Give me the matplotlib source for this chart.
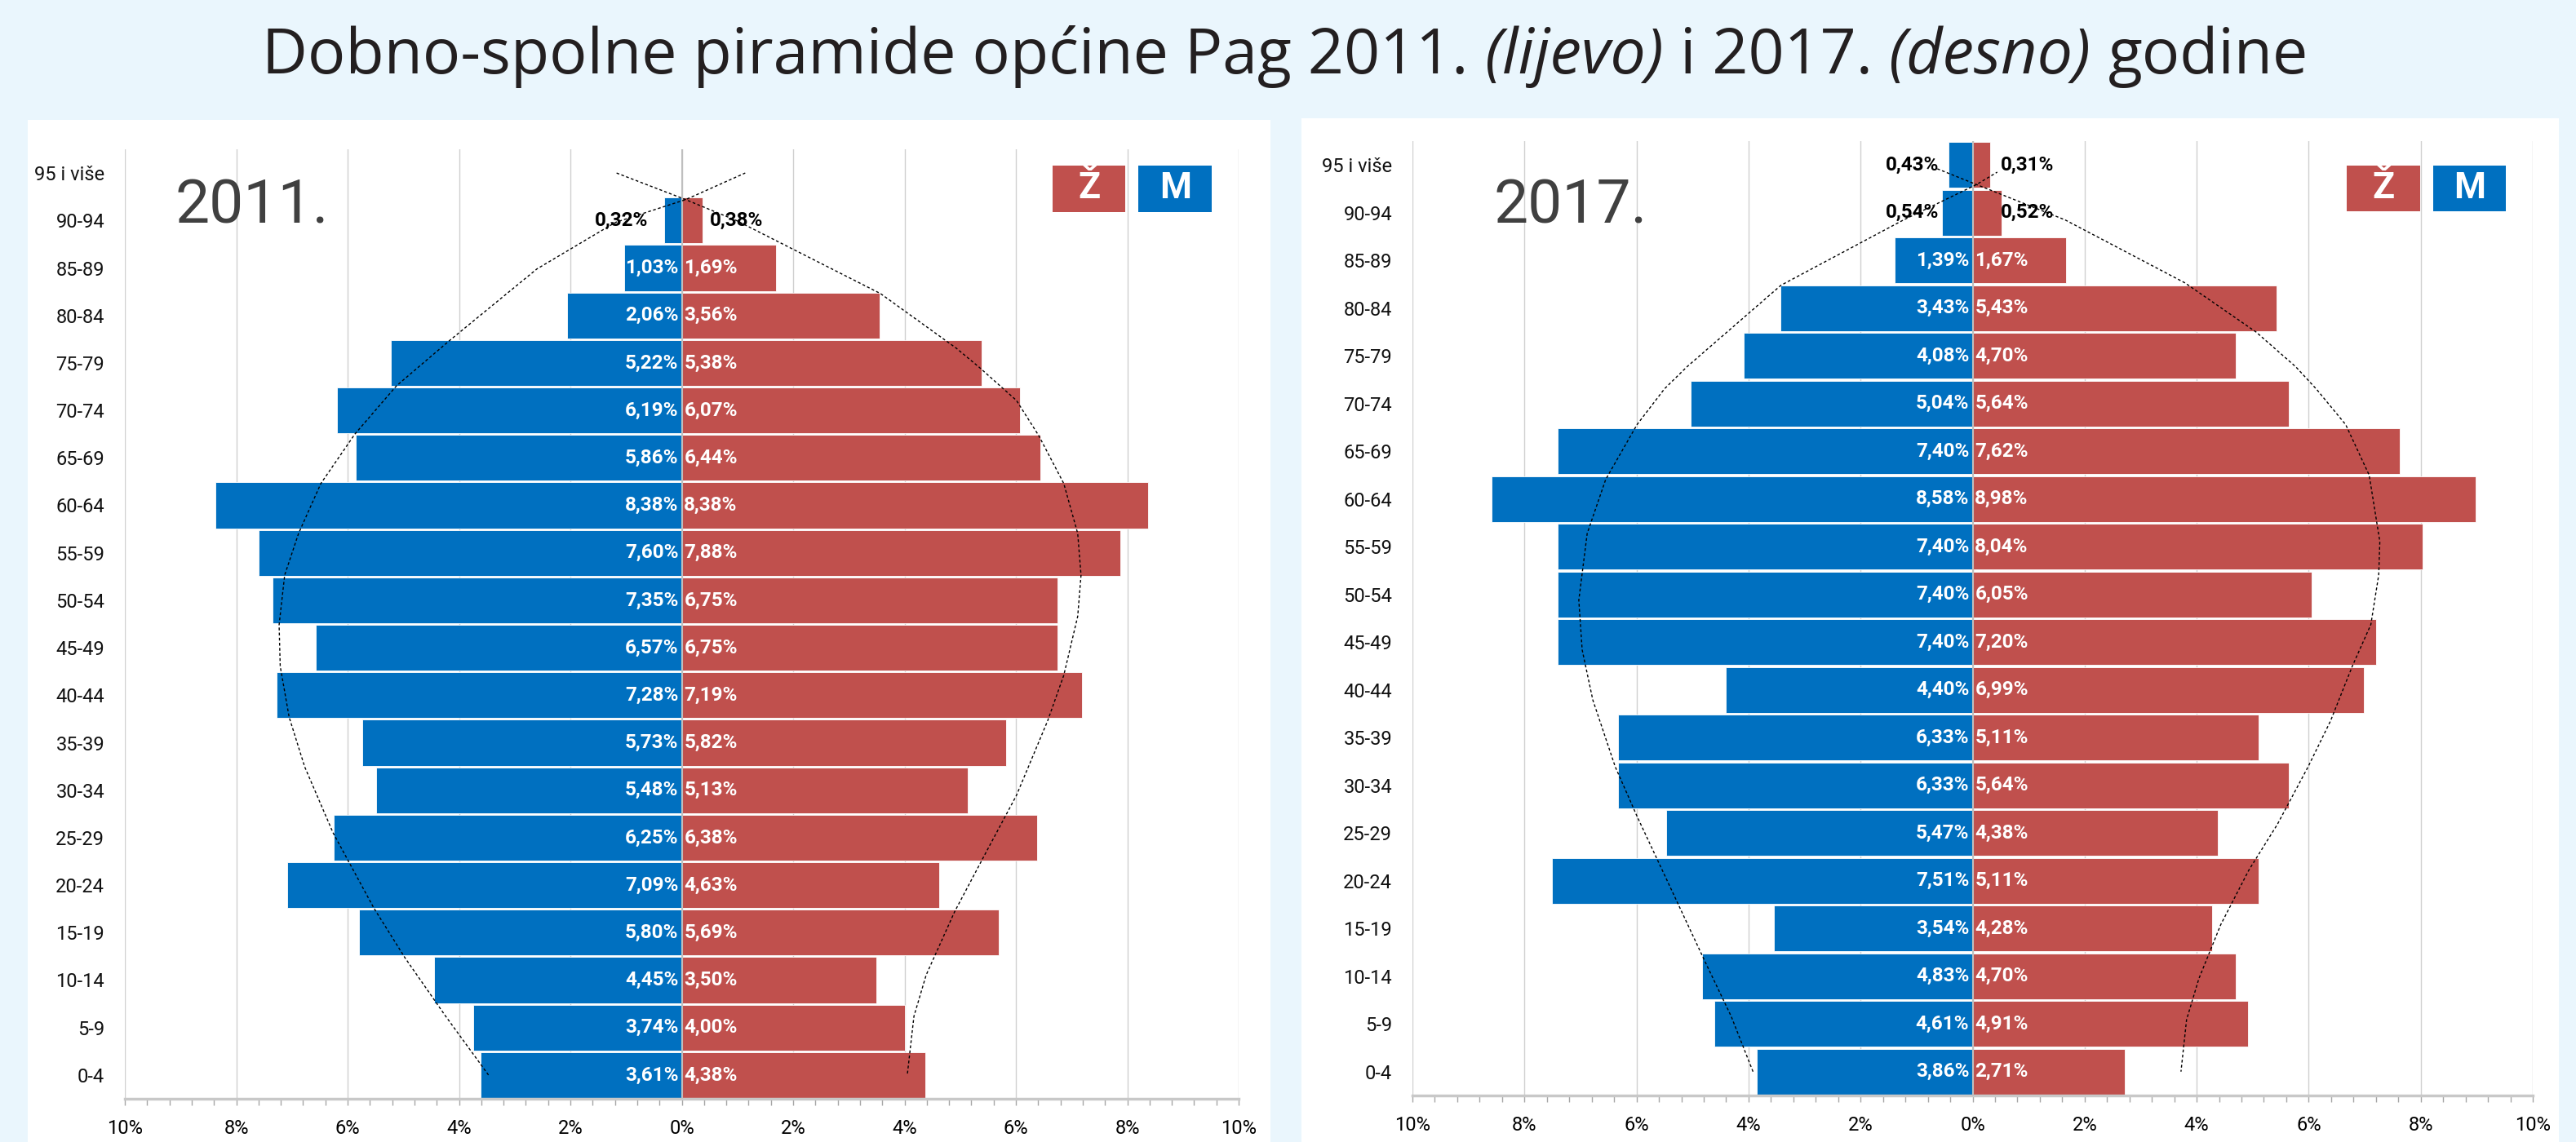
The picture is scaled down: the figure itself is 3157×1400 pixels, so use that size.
import matplotlib
matplotlib.use("Agg")
import matplotlib.pyplot as plt
from matplotlib.patches import Rectangle
from matplotlib import font_manager
from matplotlib.ticker import FuncFormatter, MultipleLocator

# --- data -------------------------------------------------------------
age_groups = ["0-4", "5-9", "10-14", "15-19", "20-24", "25-29", "30-34", "35-39",
              "40-44", "45-49", "50-54", "55-59", "60-64", "65-69", "70-74",
              "75-79", "80-84", "85-89", "90-94", "95 i više"]

male_2011 = [3.61, 3.74, 4.45, 5.80, 7.09, 6.25, 5.48, 5.73, 7.28, 6.57,
             7.35, 7.60, 8.38, 5.86, 6.19, 5.22, 2.06, 1.03, 0.32, 0]
female_2011 = [4.38, 4.00, 3.50, 5.69, 4.63, 6.38, 5.13, 5.82, 7.19, 6.75,
               6.75, 7.88, 8.38, 6.44, 6.07, 5.38, 3.56, 1.69, 0.38, 0]

male_2017 = [3.86, 4.61, 4.83, 3.54, 7.51, 5.47, 6.33, 6.33, 4.40, 7.40,
             7.40, 7.40, 8.58, 7.40, 5.04, 4.08, 3.43, 1.39, 0.54, 0.43]
female_2017 = [2.71, 4.91, 4.70, 4.28, 5.11, 4.38, 5.64, 5.11, 6.99, 7.20,
               6.05, 8.04, 8.98, 7.62, 5.64, 4.70, 5.43, 1.67, 0.52, 0.31]

# hand drawn dotted envelopes (x in %, y in age-group index)
env_2011_left_x = [-3.47, -4.24, -4.97, -5.53, -6.26, -6.77, -7.05, -7.21, -7.23, -7.13,
                   -6.88, -6.48, -5.87, -5.12, -4.16, -2.60, -1.19, 0.07, 1.14]
env_2011_left_y = [0, 1.24, 2.47, 3.52, 5.10, 6.49, 7.54, 8.61, 9.48, 10.53,
                   11.41, 12.46, 13.50, 14.52, 15.48, 16.98, 17.96, 18.44, 19.0]
env_2011_right_x = [-1.17, 0.07, 0.98, 3.57, 4.93, 5.34, 6.01, 6.41, 6.86, 7.11, 7.17,
                    7.11, 6.86, 6.57, 6.01, 5.45, 4.90, 4.39, 4.17, 4.05]
env_2011_right_y = [19.0, 18.44, 18.0, 16.46, 15.31, 14.91, 14.21, 13.47, 12.46, 11.41, 10.53,
                    9.66, 8.42, 7.46, 5.89, 4.66, 3.44, 2.11, 1.24, 0]

env_2017_left_x = [-3.92, -4.31, -4.77, -5.26, -5.99, -6.38, -6.78, -6.97, -7.03, -6.88,
                   -6.55, -5.99, -5.50, -5.10, -3.42, -1.23, 0.07, 0.44]
env_2017_left_y = [0, 1.16, 2.29, 3.52, 5.35, 6.39, 7.79, 8.84, 9.88, 11.28,
                   12.41, 13.56, 14.31, 14.77, 16.48, 17.85, 18.59, 18.85]
env_2017_right_x = [-0.63, 0.07, 1.65, 3.79, 5.06, 5.77, 6.14, 6.66, 7.08, 7.27, 7.25,
                    7.11, 6.78, 6.39, 5.99, 5.44, 4.93, 4.43, 4.04, 3.82, 3.72]
env_2017_right_y = [18.92, 18.59, 17.85, 16.53, 15.5, 14.77, 14.3, 13.56, 12.5, 11.11, 10.41,
                    9.37, 8.50, 7.35, 6.39, 5.18, 4.22, 3.08, 1.95, 1.09, 0]

title_parts = [("Dobno-spolne piramide općine Pag 2011.", "normal"),
               ("(lijevo)", "italic"),
               ("i 2017.", "normal"),
               ("(desno)", "italic"),
               ("godine", "normal")]

# --- style ------------------------------------------------------------
BLUE = "#0070C0"
RED = "#C0504D"
BG = "#EAF6FD"
GRID = "#D0D0D0"

available = {f.name for f in font_manager.fontManager.ttflist}


def pick(*names):
    for n in names:
        if n in available:
            return n
    return "DejaVu Sans"


SANS = pick("Roboto", "Liberation Sans")
NARROW = pick("Liberation Sans Narrow", "Roboto")
TITLE_FONT = pick("Open Sans", "Noto Sans")

W, H, DPI = 3157, 1400, 100
fig = plt.figure(figsize=(W / DPI, H / DPI), dpi=DPI, facecolor=BG)

# white panels behind each pyramid
fig.patches.append(Rectangle((34 / W, 0), (1557 - 34) / W, 1 - 147 / H,
                             transform=fig.transFigure, facecolor="white",
                             edgecolor="none", zorder=-5))
fig.patches.append(Rectangle((1595 / W, 0), (3136 - 1595) / W, 1 - 145 / H,
                             transform=fig.transFigure, facecolor="white",
                             edgecolor="none", zorder=-5))


def draw_pyramid(ax, male, female, env_a, env_b, year, year_pos, legend_pos):
    y = list(range(len(age_groups)))
    neg_male = [-v for v in male]
    ax.barh(y, neg_male, height=0.965, color=BLUE, edgecolor="white", linewidth=0.6, zorder=2)
    ax.barh(y, female, height=0.965, color=RED, edgecolor="white", linewidth=0.6, zorder=2)
    ax.axvline(0, color="#BFBFBF", lw=1.5, zorder=3)

    for yi, m, f in zip(y, male, female):
        if m > 0:
            lab = f"{m:.2f}%".replace(".", ",")
            if m >= 1:
                ax.annotate(lab, (0, yi), xytext=(-3, 0), textcoords="offset points",
                            ha="right", va="center", color="white", fontsize=17.5,
                            fontweight="bold", family=SANS, zorder=5)
            else:
                ax.text(-0.6, yi, lab, ha="right", va="center", color="black",
                        fontsize=17.5, fontweight="bold", family=SANS, zorder=5)
        if f > 0:
            lab = f"{f:.2f}%".replace(".", ",")
            if f >= 1:
                ax.annotate(lab, (0, yi), xytext=(2, 0), textcoords="offset points",
                            ha="left", va="center", color="white", fontsize=17.5,
                            fontweight="bold", family=SANS, zorder=5)
            else:
                ax.text(0.5, yi, lab, ha="left", va="center", color="black",
                        fontsize=17.5, fontweight="bold", family=SANS, zorder=5)

    for ex, ey in (env_a, env_b):
        ax.plot(ex, ey, color="black", lw=1.0, linestyle=(0, (2.5, 2)), zorder=4)

    ax.set_xlim(-10, 10)
    ax.set_ylim(-0.5, len(age_groups) - 0.5)
    ax.set_yticks(y)
    ax.set_yticklabels(age_groups, family=SANS, fontsize=17, color="#111111")
    ax.tick_params(axis="y", length=0, pad=18)
    ax.xaxis.set_major_locator(MultipleLocator(2))
    ax.xaxis.set_minor_locator(MultipleLocator(0.4))
    ax.xaxis.set_major_formatter(FuncFormatter(lambda v, p: f"{abs(v):.0f}%"))
    ax.tick_params(axis="x", which="both", direction="out", length=5.8, width=1,
                   color="#A6A6A6", pad=12, labelsize=17)
    for lab in ax.get_xticklabels():
        lab.set_family(SANS)
    ax.grid(axis="x", which="major", color=GRID, lw=1, zorder=0)
    ax.set_axisbelow(True)
    for side in ("left", "right", "top"):
        ax.spines[side].set_visible(False)
    ax.spines["bottom"].set_color("#C8C8C8")
    ax.spines["bottom"].set_linewidth(2.5)
    ax.set_facecolor("white")

    ax.text(year_pos[0], year_pos[1], year, transform=ax.transAxes, ha="left",
            va="baseline", fontsize=61 if NARROW != "Roboto" else 54,
            family=NARROW, color="#404040")

    # legend boxes
    (zx0, zx1), (mx0, mx1), (by0, by1) = legend_pos
    for (x0, x1), col, txt in (((zx0, zx1), RED, "Ž"), ((mx0, mx1), BLUE, "M")):
        ax.add_patch(Rectangle((x0, by0), x1 - x0, by1 - by0, transform=ax.transAxes,
                               facecolor=col, edgecolor="none", zorder=6, clip_on=False))
        ax.text((x0 + x1) / 2, (by0 + by1) / 2, txt, transform=ax.transAxes,
                ha="center", va="center", color="white", fontsize=32,
                fontweight="bold", family=NARROW, zorder=7)


ax1 = fig.add_axes([153 / W, 53 / H, 1365 / W, 1164 / H])
ax2 = fig.add_axes([1731 / W, 57 / H, 1373 / W, 1170 / H])

draw_pyramid(ax1, male_2011, female_2011,
             (env_2011_left_x, env_2011_left_y), (env_2011_right_x, env_2011_right_y),
             "2011.", (0.0447, 0.922),
             ((0.833, 0.898), (0.910, 0.976), (0.934, 0.983)))
draw_pyramid(ax2, male_2017, female_2017,
             (env_2017_left_x, env_2017_left_y), (env_2017_right_x, env_2017_right_y),
             "2017.", (0.0728, 0.9137),
             ((0.834, 0.8995), (0.911, 0.976), (0.9265, 0.974)))

# title with italic parts, laid out piece by piece
renderer = fig.canvas.get_renderer()
title_y = 1 - 90 / H
title_kw = dict(fontsize=55.5, family=TITLE_FONT, color="#231F20", va="baseline", ha="left")
pieces = []
for txt, style in title_parts:
    t = fig.text(0, title_y, txt, style=style, **title_kw)
    pieces.append(t)
probe1 = fig.text(0, 0, "x x", **title_kw)
probe2 = fig.text(0, 0, "xx", **title_kw)
space = probe1.get_window_extent(renderer).width - probe2.get_window_extent(renderer).width
probe1.remove()
probe2.remove()
widths = [t.get_window_extent(renderer).width for t in pieces]
total = sum(widths) + space * (len(pieces) - 1)
x = 1575 - total / 2
for t, w in zip(pieces, widths):
    t.set_x(x / W)
    x += w + space

fig.savefig("out.png", dpi=DPI, facecolor=BG)
